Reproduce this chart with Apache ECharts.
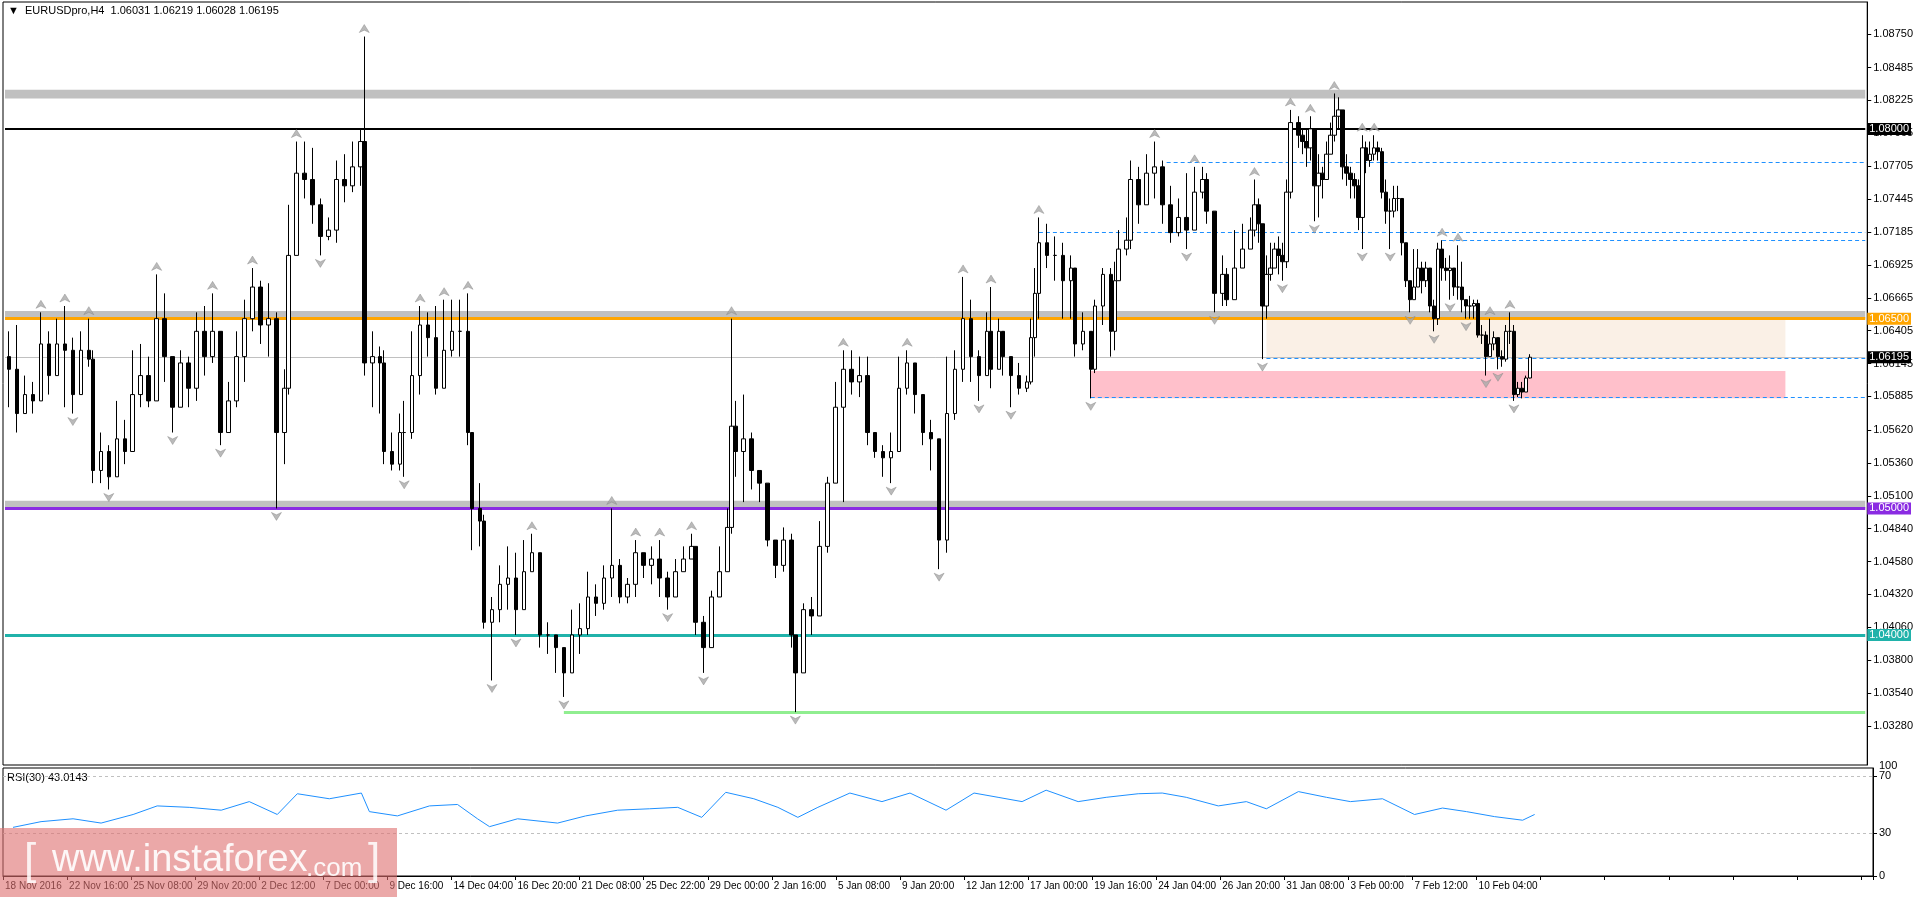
<!DOCTYPE html>
<html>
<head>
<meta charset="utf-8">
<script src="https://cdn.jsdelivr.net/npm/echarts@6/dist/echarts.min.js"></script>
<style>
  html, body { margin: 0; padding: 0; background: #fff; }
  #chart { width: 1916px; height: 897px; }
</style>
</head>
<body>
<div id="chart"></div>
<script>
// prices in pips (x 10000), bar number = position on the H4 axis
const barsA = [1,3,5,7,9,11,13,15,17,19,21,22,24,26,28,30,32,34,36,38,40,42,44,46,48,50,52,54,56,58,60,62,64,66,68,70,71,73,75,77,79,81,83,85,87,89,90,92,94,95,97,99,100,102,104,106,108,110,112,114,116,117];
const closeA = [10610,10575,10590,10585,10630,10605,10630,10625,10590,10625,10618,10530,10545,10525,10555,10545,10590,10605,10585,10650,10620,10580,10615,10595,10640,10620,10640,10560,10585,10620,10650,10675,10645,10650,10560,10595,10700,10765,10760,10740,10715,10720,10760,10755,10770,10790,10615,10620,10615,10545,10535,10560,10560,10605,10645,10635,10595,10625,10640,10640,10560,10500];
const highA = [10640,10645,10605,10600,10655,10640,10650,10660,10635,10640,10650,10625,10560,10550,10585,10570,10625,10630,10620,10685,10670,10610,10625,10620,10655,10660,10670,10635,10600,10640,10665,10690,10680,10678,10655,10610,10740,10790,10790,10785,10745,10730,10775,10780,10790,10800,10873,10640,10628,10625,10560,10575,10585,10640,10660,10655,10660,10665,10665,10665,10670,10555];
const lowA = [10580,10560,10578,10575,10595,10590,10608,10580,10575,10610,10612,10520,10520,10515,10530,10535,10560,10580,10580,10605,10600,10560,10590,10580,10585,10605,10615,10550,10570,10580,10600,10640,10630,10620,10500,10535,10590,10720,10745,10725,10700,10712,10710,10742,10750,10755,10605,10580,10575,10535,10530,10530,10525,10555,10590,10620,10590,10605,10620,10620,10550,10467];

const barsB = [119,120,122,124,126,128,130,132,134,136,138,140,142,144,146,148,150,152,154,156,158,160,162,164,166,168,170,172,173,175,177,179,181,182,183,185,187,189,191,193,195,197,198,200,202,204,206,208,210,212,214,216,218,220,222,224,226,228,230,232,234];
const closeB = [10490,10410,10420,10440,10445,10420,10450,10465,10400,10400,10390,10370,10400,10405,10430,10425,10445,10455,10430,10440,10465,10455,10460,10445,10430,10450,10460,10470,10410,10390,10430,10450,10485,10565,10545,10555,10530,10520,10475,10455,10475,10400,10370,10420,10415,10470,10520,10580,10610,10600,10605,10560,10545,10540,10545,10595,10615,10590,10560,10555,10475];
const highB = [10520,10495,10430,10455,10470,10465,10475,10480,10465,10410,10400,10390,10420,10425,10450,10440,10455,10500,10460,10445,10475,10465,10470,10475,10450,10460,10470,10480,10470,10415,10435,10470,10500,10650,10585,10590,10560,10530,10520,10475,10485,10480,10400,10425,10430,10490,10525,10600,10625,10625,10620,10620,10555,10550,10560,10620,10625,10615,10590,10570,10530];
const lowB = [10470,10405,10364,10410,10420,10400,10440,10450,10390,10385,10370,10351,10380,10385,10400,10415,10420,10430,10425,10425,10430,10445,10440,10430,10420,10435,10455,10460,10400,10370,10390,10440,10460,10480,10525,10505,10515,10505,10470,10445,10450,10390,10339,10380,10400,10440,10465,10520,10505,10590,10588,10550,10540,10525,10520,10545,10590,10575,10550,10530,10452];

const barsC = [236,238,240,242,244,246,247,249,250,252,254,256,257,258,259,261,263,265,267,268,270,272,273,275,277,278,279,281,282,284,286,288,290,292,294,296,298,300,301,303,305,306,308,310,312,313,314,315,316,317,318,319,320,321,322,324,325,326,327,328,329,330,331,332,333,334,335,336,337,338,339,340,341,342,343,344,345];
const closeC = [10575,10610,10650,10620,10605,10640,10610,10640,10620,10605,10595,10600,10635,10670,10710,10700,10700,10680,10690,10630,10640,10610,10660,10685,10640,10680,10705,10712,10760,10740,10765,10770,10740,10718,10730,10720,10750,10760,10735,10670,10685,10665,10690,10705,10720,10740,10725,10660,10685,10690,10705,10700,10695,10750,10805,10795,10790,10785,10800,10755,10765,10760,10780,10795,10810,10815,10770,10765,10760,10755,10730,10785,10775,10780,10785,10782,10750];
const highC = [10620,10625,10683,10665,10625,10655,10675,10650,10635,10620,10615,10605,10650,10690,10730,10725,10715,10710,10700,10675,10655,10640,10665,10690,10690,10695,10720,10730,10775,10770,10780,10790,10775,10755,10745,10765,10770,10770,10765,10730,10700,10690,10720,10725,10730,10760,10745,10700,10700,10710,10710,10715,10710,10760,10815,10810,10800,10800,10810,10800,10780,10770,10790,10805,10828,10825,10815,10780,10770,10765,10760,10795,10790,10790,10795,10790,10785];
const lowC = [10465,10570,10600,10600,10585,10610,10595,10625,10605,10580,10590,10592,10598,10620,10650,10690,10680,10650,10650,10620,10625,10587,10607,10645,10620,10625,10680,10700,10705,10725,10740,10745,10725,10710,10715,10705,10730,10745,10725,10655,10660,10660,10668,10690,10710,10715,10710,10618,10650,10680,10690,10685,10680,10690,10745,10785,10780,10770,10775,10727,10730,10745,10765,10780,10790,10800,10760,10755,10745,10745,10720,10705,10765,10770,10775,10775,10745];

const barsD = [346,347,348,349,350,351,352,353,354,355,356,357,358,359,360,361,362,363,364,365,366,367,368,369,370,371,372,373,374,375,376,377,378,379,380,381,382];
const closeD = [10735,10735,10745,10745,10710,10680,10665,10675,10690,10680,10690,10660,10650,10705,10690,10688,10690,10675,10675,10665,10660,10660,10662,10637,10637,10620,10630,10635,10620,10618,10640,10640,10590,10595,10592,10603.1,10619.5];
const highD = [10760,10745,10755,10755,10745,10705,10680,10705,10705,10695,10695,10690,10665,10710,10712,10698,10700,10690,10708,10695,10665,10668,10665,10665,10645,10640,10650,10640,10630,10625,10645,10655,10645,10600,10600,10605,10621.9];
const lowD = [10725,10705,10730,10735,10700,10675,10655,10670,10680,10670,10675,10655,10640,10645,10680,10680,10665,10668,10665,10655,10650,10650,10650,10635,10630,10605,10620,10625,10610,10612,10616,10630,10585,10588,10587,10595,10602.8];

const firstOpen = 10620;

// RSI(30) read at bar numbers
const rsiBars = [2,9,17,24,32,38,46,54,61,68,73,81,89,91,98,106,113,118,121,128,138,145,153,161,168,174,180,187,193,198,203,211,219,226,235,242,248,254,260,268,275,283,289,295,303,310,315,323,330,336,344,352,359,365,372,379,382];
const rsiValues = [34,38,40,37,43,49,48,46,52,43,57.5,54,58,45,42,49,50,40,34.5,40,37,42,46,47,48,41,58.5,54,48,41,48,58,52,58,46,58,55,52,60,52,55,57.5,58,55,49,52,47,59,55,52,54,43,47.5,45,41.5,39,43.01];

const dateLabels = ['18 Nov 2016','22 Nov 16:00','25 Nov 08:00','29 Nov 20:00','2 Dec 12:00','7 Dec 00:00','9 Dec 16:00','14 Dec 04:00','16 Dec 20:00','21 Dec 08:00','25 Dec 22:00','29 Dec 00:00','2 Jan 16:00','5 Jan 08:00','9 Jan 20:00','12 Jan 12:00','17 Jan 00:00','19 Jan 16:00','24 Jan 04:00','26 Jan 20:00','31 Jan 08:00','3 Feb 00:00','7 Feb 12:00','10 Feb 04:00'];
const priceTicks = [1.08750,1.08485,1.08225,1.07965,1.07705,1.07445,1.07185,1.06925,1.06665,1.06405,1.06145,1.05885,1.05620,1.05360,1.05100,1.04840,1.04580,1.04320,1.04060,1.03800,1.03540,1.03280];

const nBars = 467;
const labelStep = 16;

const bars = [...barsA, ...barsB, ...barsC, ...barsD];
const closes = [...closeA, ...closeB, ...closeC, ...closeD];
const highs = [...highA, ...highB, ...highC, ...highD];
const lows = [...lowA, ...lowB, ...lowC, ...lowD];

const candles = [];
let prev = firstOpen;
for (let i = 0; i < bars.length; i++) {
  const o = prev, c = closes[i];
  const h = Math.max(highs[i], o, c), l = Math.min(lows[i], o, c);
  candles.push([bars[i], o / 1e4, c / 1e4, l / 1e4, h / 1e4]);
  prev = c;
}

// Bill Williams fractals
const upFr = [], dnFr = [];
for (let i = 2; i < candles.length - 2; i++) {
  const h = candles[i][4], l = candles[i][3];
  if (h > candles[i-1][4] && h > candles[i-2][4] && h >= candles[i+1][4] && h >= candles[i+2][4]) upFr.push([candles[i][0], h]);
  if (l < candles[i-1][3] && l < candles[i-2][3] && l <= candles[i+1][3] && l <= candles[i+2][3]) dnFr.push([candles[i][0], l]);
}

const cats = [];
for (let i = 0; i < nBars; i++) {
  cats.push(i % labelStep === 0 && dateLabels[i / labelStep] ? dateLabels[i / labelStep] : '');
}

const font = '"Liberation Sans", "DejaVu Sans", sans-serif';
const arrowUp = 'path://M0,10 L5,0 L10,10 L5,7 Z';

const hLine = (v, color, width, text, bg) => [
  { xAxis: 0, yAxis: v, lineStyle: { color, width, type: 'solid' },
    label: text ? {
      show: true, position: 'end', formatter: text, distance: 2,
      backgroundColor: bg, color: '#fff', padding: [1, 2, 0, 2], fontSize: 11, fontFamily: font
    } : { show: false } },
  { xAxis: nBars - 1, yAxis: v }
];
const segLine = (from, v, color, width, type) => [
  { xAxis: from, yAxis: v, lineStyle: { color, width, type }, label: { show: false } },
  { xAxis: nBars - 1, yAxis: v }
];
const box = (x0, x1, y0, y1, color) => [
  { xAxis: x0, yAxis: y0, itemStyle: { color } },
  { xAxis: x1, yAxis: y1 }
];

const chart = echarts.init(document.getElementById('chart'));
chart.setOption({
  animation: false,
  backgroundColor: '#fff',
  grid: [
    { left: 3, right: 43, top: 2, height: 763, show: true, borderColor: '#000', borderWidth: 1 },
    { left: 3, right: 43, top: 768, height: 108, show: true, borderColor: '#000', borderWidth: 1 }
  ],
  xAxis: [
    { type: 'category', data: cats, gridIndex: 0, axisLine: { show: false }, axisTick: { show: false },
      axisLabel: { show: false }, splitLine: { show: false } },
    { type: 'category', data: cats, gridIndex: 1,
      axisLine: { lineStyle: { color: '#000' } },
      axisTick: { show: true, interval: labelStep - 1, length: 4, lineStyle: { color: '#000' } },
      axisLabel: { interval: labelStep - 1, align: 'left', margin: 5, fontSize: 10, color: '#000', fontFamily: font },
      splitLine: { show: false } }
  ],
  yAxis: [
    { type: 'value', gridIndex: 0, position: 'right', min: 1.02972, max: 1.09003,
      axisLine: { show: true, lineStyle: { color: '#000' } },
      axisTick: { show: true, length: 4, customValues: priceTicks, lineStyle: { color: '#000' } },
      axisLabel: { customValues: priceTicks, formatter: v => v.toFixed(5), fontSize: 11, color: '#000', fontFamily: font, margin: 6 },
      splitLine: { show: false } },
    { type: 'value', gridIndex: 1, position: 'right', min: 0, max: 75.5,
      axisLine: { show: true, lineStyle: { color: '#000' } },
      axisTick: { show: true, length: 4, customValues: [0, 30, 70], lineStyle: { color: '#000' } },
      axisLabel: { customValues: [0, 30, 70], fontSize: 11, color: '#000', fontFamily: font, margin: 6 },
      splitLine: { show: false } }
  ],
  series: [
    {
      type: 'candlestick', xAxisIndex: 0, yAxisIndex: 0, data: candles,
      encode: { x: 0, y: [1, 2, 3, 4] }, barWidth: 4, z: 5,
      itemStyle: { color: '#fff', color0: '#000', borderColor: '#000', borderColor0: '#000', borderWidth: 1 }
    },
    {
      type: 'line', xAxisIndex: 0, yAxisIndex: 0, data: [], z: 1,
      markArea: {
        silent: true,
        data: [
          box(0, nBars - 1, 1.0824, 1.0831, '#c0c0c0'),
          box(0, nBars - 1, 1.0650, 1.0656, '#c0c0c0'),
          box(0, nBars - 1, 1.0500, 1.0506, '#c0c0c0'),
          box(316, 446, 1.06185, 1.0650, '#faf0e6'),
          box(272, 446, 1.0587, 1.06086, '#ffc0cb')
        ]
      },
      markLine: {
        silent: true, symbol: 'none', label: { show: false },
        data: [
          hLine(1.06195, '#c0c0c0', 1, '1.06195', '#000'),
          hLine(1.0800, '#000', 2, '1.08000', '#000'),
          hLine(1.0650, '#ffa500', 3, '1.06500', '#ffa500'),
          hLine(1.0500, '#8a2be2', 3, '1.05000', '#8a2be2'),
          hLine(1.0400, '#20b2aa', 3, '1.04000', '#20b2aa'),
          segLine(140, 1.03391, '#90ee90', 3, 'solid'),
          segLine(291, 1.07738, '#1e90ff', 1, [4, 3]),
          segLine(259, 1.07185, '#1e90ff', 1, [4, 3]),
          segLine(360, 1.07116, '#1e90ff', 1, [4, 3]),
          segLine(316, 1.06185, '#1e90ff', 1, [4, 3]),
          segLine(272, 1.05881, '#1e90ff', 1, [4, 3])
        ]
      }
    },
    { type: 'scatter', xAxisIndex: 0, yAxisIndex: 0, data: upFr, symbol: arrowUp, symbolSize: [10, 8],
      symbolOffset: [0, -8], itemStyle: { color: '#a9a9a9', borderColor: '#808080', borderWidth: 0.5 }, silent: true, z: 6 },
    { type: 'scatter', xAxisIndex: 0, yAxisIndex: 0, data: dnFr, symbol: arrowUp, symbolRotate: 180, symbolSize: [10, 8],
      symbolOffset: [0, 8], itemStyle: { color: '#a9a9a9', borderColor: '#808080', borderWidth: 0.5 }, silent: true, z: 6 },
    {
      type: 'line', xAxisIndex: 1, yAxisIndex: 1, data: rsiBars.map((b, i) => [b, rsiValues[i]]),
      showSymbol: false, lineStyle: { color: '#1e90ff', width: 1 },
      markLine: {
        silent: true, symbol: 'none', label: { show: false },
        lineStyle: { color: '#c0c0c0', type: [3, 3], width: 1 },
        data: [{ yAxis: 70 }, { yAxis: 30 }]
      }
    }
  ],
  graphic: [
    { type: 'text', left: 8, top: 5, style: { text: '▼  EURUSDpro,H4  1.06031 1.06219 1.06028 1.06195', fontSize: 11, fill: '#000', fontFamily: font } },
    { type: 'text', left: 7, top: 772, style: { text: 'RSI(30) 43.0143', fontSize: 11, fill: '#000', fontFamily: font } },
    { type: 'text', left: 1879, top: 760, style: { text: '100', fontSize: 11, fill: '#000', fontFamily: font } },
    { type: 'rect', shape: { x: 0, y: 828, width: 397, height: 69 }, style: { fill: 'rgba(222,110,110,0.6)' }, z: 10 },
    { type: 'text', left: 24, top: 840, style: { text: '[', fontSize: 44, fill: 'rgba(255,255,255,0.85)', fontFamily: font }, z: 11 },
    { type: 'text', left: 52, top: 842, style: { text: 'www.instaforex', fontSize: 38, fill: 'rgba(255,255,255,0.9)', fontFamily: font }, z: 11 },
    { type: 'text', left: 306, top: 856, style: { text: '.com', fontSize: 26, fill: 'rgba(255,255,255,0.9)', fontFamily: font }, z: 11 },
    { type: 'text', left: 368, top: 840, style: { text: ']', fontSize: 44, fill: 'rgba(255,255,255,0.85)', fontFamily: font }, z: 11 }
  ]
});
</script>
</body>
</html>
